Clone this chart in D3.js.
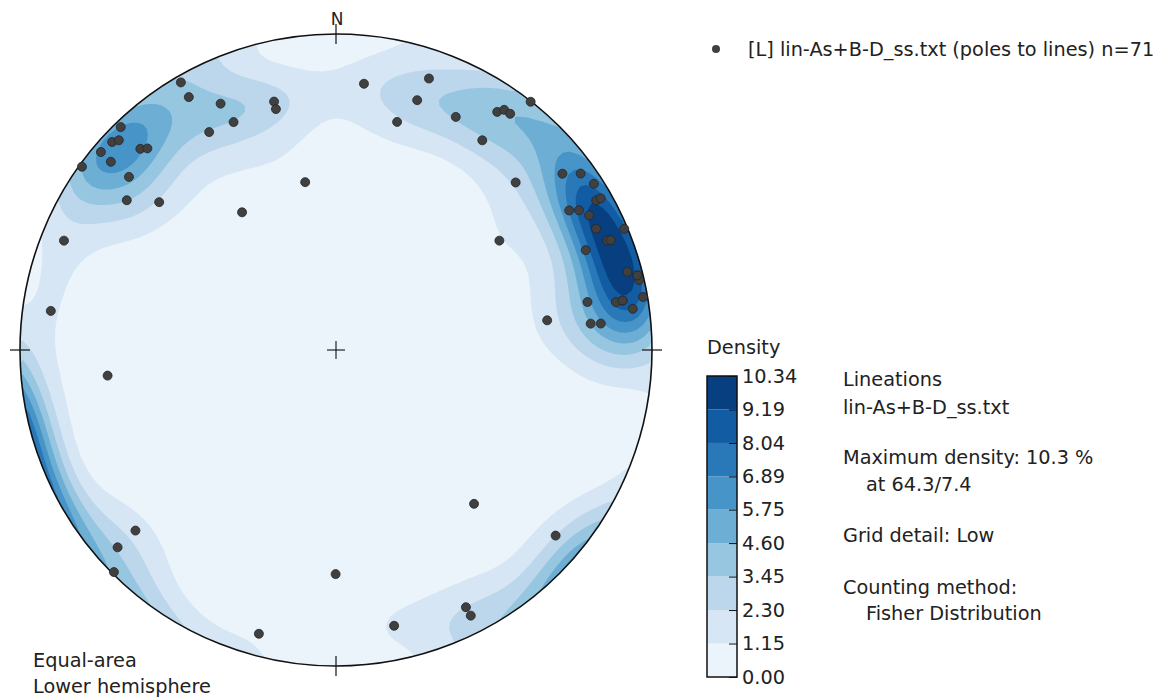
<!DOCTYPE html>
<html><head><meta charset="utf-8">
<script src="https://cdn.jsdelivr.net/npm/d3@7"></script>
<style>
body{margin:0;background:#fff}
text{font-family:"DejaVu Sans",sans-serif;fill:#222}
</style>
</head><body>
<svg id="c" width="1164" height="699"></svg>
<script>
// ---- data: lineations (trend / plunge, degrees) ----
const trends = [329.9,329.8,334.9,335.8,329.8,316.0,312.9,314.0,310.1,315.8,316.9,309.9,305.8,309.9,305.6,309.9,325.7,346.0,346.0,349.6,
  6.0,18.9,18.0,15.0,27.2,34.9,34.1,35.0,36.4,38.1,47.0,56.2,52.1,54.2,57.2,60.1,60.2,59.1,60.1,62.0,
  65.0,67.2,68.0,68.2,68.2,75.0,76.1,77.0,80.2,80.2,80.3,82.1,79.2,82.0,84.1,84.3,291.9,277.8,263.6,228.0,
  227.9,225.0,138.1,130.2,180.1,153.2,153.1,168.1,195.2,76.1,80.2];
const plunges = [2.4,8.2,15.0,22.0,21.3,2.2,3.7,5.0,3.1,12.2,13.7,7.9,1.0,15.7,19.7,27.9,46.2,20.1,22.5,45.1,
  16.4,10.1,18.0,26.2,18.2,20.2,9.9,8.0,7.9,0.2,23.3,37.8,10.1,5.1,3.3,5.6,3.9,15.1,12.3,10.2,
  10.1,1.2,8.2,7.1,16.0,5.1,2.0,1.8,1.6,8.8,11.1,5.8,20.1,33.0,20.1,16.9,8.0,9.8,28.1,15.7,
  7.6,0.7,34.9,9.9,29.8,9.7,6.4,11.8,7.7,2.0,8.8];
const levels = [0, 1.15, 2.30, 3.45, 4.60, 5.75, 6.89, 8.04, 9.19, 10.34];
const levelLabels = ["0.00","1.15","2.30","3.45","4.60","5.75","6.89","8.04","9.19","10.34"];
const maxDensity = 10.34;
const legendLabel = "[L] lin-As+B-D_ss.txt (poles to lines) n=71";
const infoLines = [
  {t:"Lineations", indent:0, y:386},
  {t:"lin-As+B-D_ss.txt", indent:0, y:414},
  {t:"Maximum density: 10.3 %", indent:0, y:463.5},
  {t:"at 64.3/7.4", indent:1, y:490.5},
  {t:"Grid detail: Low", indent:0, y:541.5},
  {t:"Counting method:", indent:0, y:593.5},
  {t:"Fisher Distribution", indent:1, y:620}
];
const kappa = 45;

// ---- layout ----
const cx = 336, cy = 350, R = 316;
const svg = d3.select("#c");
const xS = d3.scaleLinear().domain([-1, 1]).range([cx - R, cx + R]);
const yS = d3.scaleLinear().domain([-1, 1]).range([cy + R, cy - R]);
const rad = Math.PI / 180;

function proj(t, p) {
  const phi = (90 - p) * rad;
  const r = Math.SQRT2 * Math.sin(phi / 2);
  return [r * Math.sin(t * rad), r * Math.cos(t * rad)];
}
const vecs = trends.map((t, i) => {
  const p = plunges[i] * rad, tr = t * rad;
  return [Math.cos(p) * Math.sin(tr), Math.cos(p) * Math.cos(tr), Math.sin(p)];
});
function density(x, y) {
  const r = Math.min(Math.hypot(x, y), 1);
  const phi = 2 * Math.asin(r / Math.SQRT2);
  const t = Math.atan2(x, y);
  const a = Math.sin(phi) * Math.sin(t), b = Math.sin(phi) * Math.cos(t), c = Math.cos(phi);
  let s = 0;
  for (const v of vecs) s += Math.exp(kappa * (Math.abs(a * v[0] + b * v[1] + c * v[2]) - 1));
  return s;
}
const n = 110;
const grid = new Float64Array(n * n);
for (let j = 0; j < n; j++) for (let i = 0; i < n; i++)
  grid[j * n + i] = density(-1 + 2 * (i + 0.5) / n, 1 - 2 * (j + 0.5) / n);
const gmax = d3.max(grid);
for (let k = 0; k < grid.length; k++) grid[k] *= maxDensity / gmax;

const colors = d3.range(9).map(i => d3.interpolateBlues((i + 0.5) / 9));

const defs = svg.append("defs");
defs.append("clipPath").attr("id", "clip").append("circle").attr("cx", cx).attr("cy", cy).attr("r", R);

const gPlot = svg.append("g").attr("clip-path", "url(#clip)");
gPlot.append("circle").attr("cx", cx).attr("cy", cy).attr("r", R).attr("fill", colors[0]);
const contours = d3.contours().size([n, n]).thresholds(levels.slice(1, 9))(grid);
const path = d3.geoPath(d3.geoTransform({
  point: function(gx, gy) { this.stream.point(xS(-1 + 2 * gx / n), yS(1 - 2 * gy / n)); }
}));
gPlot.selectAll("path.band").data(contours).join("path")
  .attr("class", "band").attr("d", path)
  .attr("fill", (d, i) => colors[i + 1]);

// outline & ticks
svg.append("circle").attr("cx", cx).attr("cy", cy).attr("r", R)
  .attr("fill", "none").attr("stroke", "#111").attr("stroke-width", 1.6);
const tk = 10;
[[0, 1], [1, 0], [0, -1], [-1, 0]].forEach(([dx, dy]) => {
  const px = xS(dx), py = yS(dy);
  svg.append("line")
    .attr("x1", px - Math.abs(dx) * tk).attr("x2", px + Math.abs(dx) * tk)
    .attr("y1", py - Math.abs(dy) * tk).attr("y2", py + Math.abs(dy) * tk)
    .attr("stroke", "#111").attr("stroke-width", 1.2);
});
svg.append("line").attr("x1", cx - 9).attr("x2", cx + 9).attr("y1", cy).attr("y2", cy).attr("stroke", "#111").attr("stroke-width", 1.1);
svg.append("line").attr("x1", cx).attr("x2", cx).attr("y1", cy - 9).attr("y2", cy + 9).attr("stroke", "#111").attr("stroke-width", 1.1);
svg.append("text").attr("x", cx + 1).attr("y", 25).attr("text-anchor", "middle").attr("font-size", 17).text("N");

// points
svg.append("g").selectAll("circle").data(trends.map((t, i) => proj(t, plunges[i]))).join("circle")
  .attr("cx", d => xS(d[0])).attr("cy", d => yS(d[1])).attr("r", 4.5)
  .attr("fill", "#404040").attr("stroke", "#262626").attr("stroke-width", 0.8);

// legend
svg.append("circle").attr("cx", 716).attr("cy", 49).attr("r", 4).attr("fill", "#404040");
svg.append("text").attr("x", 748).attr("y", 56).attr("font-size", 19.3).text(legendLabel);

// colorbar
const cbX = 707, cbW = 30, cbTop = 376, cbBot = 677;
const cbS = d3.scaleLinear().domain([levels[0], levels[9]]).range([cbBot, cbTop]);
const cb = svg.append("g");
cb.selectAll("rect").data(d3.range(9)).join("rect")
  .attr("x", cbX).attr("width", cbW)
  .attr("y", i => cbS(levels[i + 1])).attr("height", i => cbS(levels[i]) - cbS(levels[i + 1]))
  .attr("fill", i => colors[i]);
cb.append("rect").attr("x", cbX).attr("y", cbTop).attr("width", cbW).attr("height", cbBot - cbTop)
  .attr("fill", "none").attr("stroke", "#111").attr("stroke-width", 1.5);
const ax = svg.append("g").attr("transform", `translate(${cbX + cbW},0)`)
  .call(d3.axisRight(cbS).tickValues(levels).tickFormat((d, i) => levelLabels[i]).tickSizeInner(-8).tickSizeOuter(0).tickPadding(5));
ax.select(".domain").remove();
ax.selectAll(".tick line").attr("stroke", "#111");
ax.selectAll(".tick text").attr("font-size", 19.3).attr("font-family", "DejaVu Sans").attr("fill", "#222");
svg.append("text").attr("x", 707).attr("y", 354).attr("font-size", 19.3).text("Density");

// info text
svg.append("g").selectAll("text").data(infoLines).join("text")
  .attr("x", d => 843 + d.indent * 23).attr("y", d => d.y)
  .attr("font-size", 19.3).text(d => d.t);

svg.append("text").attr("x", 33).attr("y", 667).attr("font-size", 19.3).text("Equal-area");
svg.append("text").attr("x", 33).attr("y", 693).attr("font-size", 19.3).text("Lower hemisphere");
</script>
</body></html>
